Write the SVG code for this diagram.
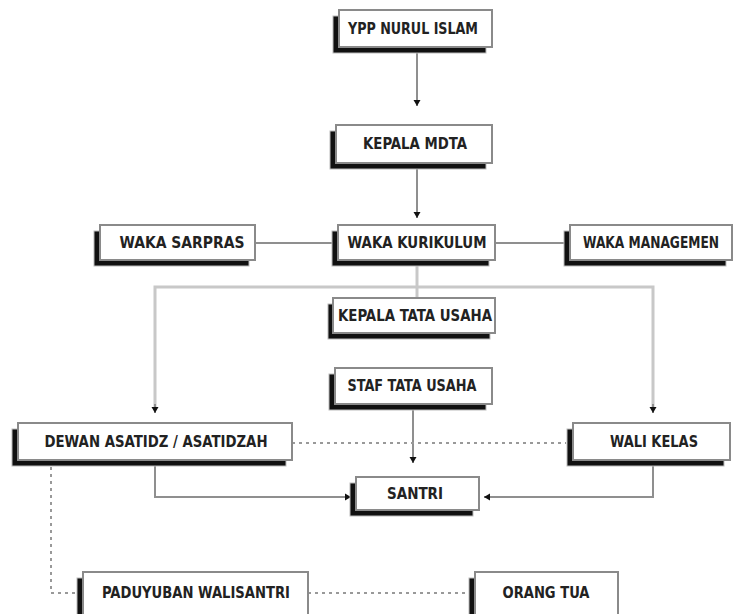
<svg xmlns="http://www.w3.org/2000/svg" width="734" height="614" viewBox="0 0 734 614">
<defs>
<style>
.sh{fill:#111;stroke:#bbb;stroke-width:1}
.bx{fill:#fff;stroke:#8a8a8a;stroke-width:2}
.t{font-family:"DejaVu Sans Condensed","DejaVu Sans",sans-serif;font-weight:bold;font-size:15px;fill:#222;text-anchor:middle;dominant-baseline:central}
.ln{fill:none;stroke:#8f8f8f;stroke-width:2}
.lt{fill:none;stroke:#c8c8c8;stroke-width:3}
.dt{fill:none;stroke:#999;stroke-width:2;stroke-dasharray:3,4}
</style>
<marker id="ah" markerUnits="userSpaceOnUse" markerWidth="8" markerHeight="8" refX="6" refY="4" orient="auto">
<path d="M0,0.5 L6,4 L0,7.5 Z" fill="#111"/>
</marker>
</defs>
<rect width="734" height="614" fill="#fff"/>
<g id="connectors">
<line class="ln" x1="417" y1="53" x2="417" y2="106" marker-end="url(#ah)"/>
<line class="ln" x1="417" y1="169" x2="417" y2="218" marker-end="url(#ah)"/>
<line class="ln" x1="255" y1="243" x2="332" y2="243"/>
<line class="ln" x1="495" y1="243" x2="564" y2="243"/>
<line class="lt" x1="417" y1="266" x2="417" y2="298"/>
<polyline class="lt" points="155,410 155,287 653,287 653,410"/>
<line class="ln" x1="155" y1="404" x2="155" y2="413" marker-end="url(#ah)" stroke="none"/>
<line class="ln" x1="653" y1="404" x2="653" y2="413" marker-end="url(#ah)" stroke="none"/>
<line class="ln" x1="413" y1="410" x2="413" y2="463" marker-end="url(#ah)"/>
<polyline class="ln" points="155,466 155,497 351,497" marker-end="url(#ah)"/>
<polyline class="ln" points="653,466 653,497 484,497" marker-end="url(#ah)"/>
<line class="dt" x1="292" y1="443" x2="566" y2="443"/>
<polyline class="dt" points="51,467 51,593 77,593"/>
<line class="dt" x1="308" y1="593" x2="468" y2="593"/>
</g>
<g id="ypp">
<rect class="sh" x="333" y="16" width="153" height="37"/>
<rect class="bx" x="339" y="10" width="153" height="37"/>
<text class="t" x="413" y="29" textLength="130" lengthAdjust="spacingAndGlyphs">YPP NURUL ISLAM</text>
</g>
<g id="kepala-mdta">
<rect class="sh" x="330" y="131" width="156" height="38"/>
<rect class="bx" x="336" y="125" width="156" height="38"/>
<text class="t" x="415" y="144" textLength="104" lengthAdjust="spacingAndGlyphs">KEPALA MDTA</text>
</g>
<g id="waka-sarpras">
<rect class="sh" x="94" y="231" width="155" height="35"/>
<rect class="bx" x="100" y="225" width="155" height="35"/>
<text class="t" x="182" y="243" textLength="125" lengthAdjust="spacingAndGlyphs">WAKA SARPRAS</text>
</g>
<g id="waka-kurikulum">
<rect class="sh" x="332" y="231" width="157" height="35"/>
<rect class="bx" x="338" y="225" width="157" height="35"/>
<text class="t" x="417" y="243" textLength="139" lengthAdjust="spacingAndGlyphs">WAKA KURIKULUM</text>
</g>
<g id="waka-managemen">
<rect class="sh" x="564" y="231" width="162" height="35"/>
<rect class="bx" x="570" y="225" width="162" height="35"/>
<text class="t" x="651" y="243" textLength="136" lengthAdjust="spacingAndGlyphs">WAKA MANAGEMEN</text>
</g>
<g id="kepala-tu">
<rect class="sh" x="328" y="304" width="162" height="35"/>
<rect class="bx" x="333" y="298" width="162" height="35"/>
<text class="t" x="415" y="316" textLength="154" lengthAdjust="spacingAndGlyphs">KEPALA TATA USAHA</text>
</g>
<g id="staf-tu">
<rect class="sh" x="329" y="374" width="157" height="36"/>
<rect class="bx" x="335" y="368" width="157" height="36"/>
<text class="t" x="412" y="386" textLength="129" lengthAdjust="spacingAndGlyphs">STAF TATA USAHA</text>
</g>
<g id="dewan">
<rect class="sh" x="12" y="429" width="274" height="37"/>
<rect class="bx" x="18" y="423" width="274" height="37"/>
<text class="t" x="156" y="442" textLength="223" lengthAdjust="spacingAndGlyphs">DEWAN ASATIDZ / ASATIDZAH</text>
</g>
<g id="wali-kelas">
<rect class="sh" x="567" y="429" width="157" height="37"/>
<rect class="bx" x="573" y="423" width="157" height="37"/>
<text class="t" x="654" y="442" textLength="88" lengthAdjust="spacingAndGlyphs">WALI KELAS</text>
</g>
<g id="santri">
<rect class="sh" x="350" y="483" width="123" height="33"/>
<rect class="bx" x="356" y="477" width="123" height="33"/>
<text class="t" x="415" y="494" textLength="56" lengthAdjust="spacingAndGlyphs">SANTRI</text>
</g>
<g id="paguyuban">
<rect class="sh" x="77" y="578" width="225" height="50"/>
<rect class="bx" x="83" y="572" width="225" height="50"/>
<text class="t" x="196" y="593" textLength="188" lengthAdjust="spacingAndGlyphs">PADUYUBAN WALISANTRI</text>
</g>
<g id="orang-tua">
<rect class="sh" x="469" y="578" width="143" height="50"/>
<rect class="bx" x="475" y="572" width="143" height="50"/>
<text class="t" x="546" y="593" textLength="87" lengthAdjust="spacingAndGlyphs">ORANG TUA</text>
</g>
</svg>
